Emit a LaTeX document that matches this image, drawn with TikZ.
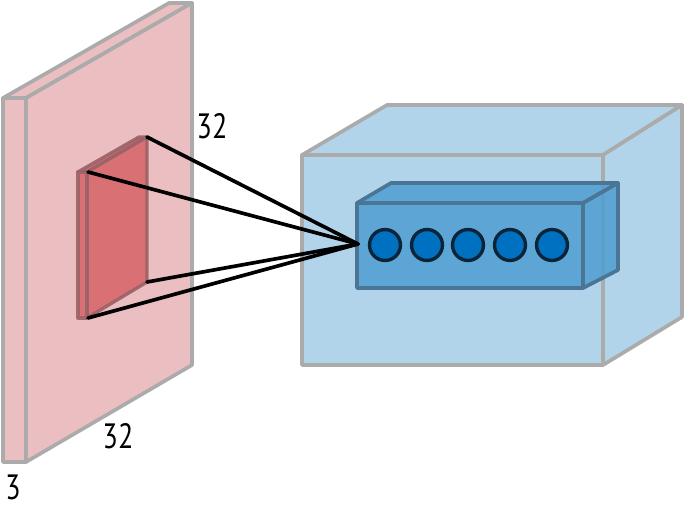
\documentclass[tikz,border=0pt]{standalone}
\usepackage{fontspec}
\setmainfont{PT Sans}
\definecolor{slabpink}{HTML}{EBBEC1}
\definecolor{fieldred}{HTML}{D87074}
\definecolor{fieldrim}{HTML}{9A6266}
\definecolor{boxblue}{HTML}{B1D4EA}
\definecolor{coreblue}{HTML}{4F9DD1}
\definecolor{corerim}{HTML}{4A7594}
\definecolor{unitblue}{HTML}{0070C0}
\definecolor{unitrim}{HTML}{0C2438}
\definecolor{rimgray}{HTML}{ABABAB}
\begin{document}
\begin{tikzpicture}[
  x=0.025cm, y=-0.025cm,
  every node/.style={font=\fontsize{25}{25}\selectfont},
  slab/.style={fill=slabpink, draw=rimgray, line width=2.6pt, line join=round},
  field/.style={fill=fieldred, draw=fieldrim, draw opacity=0.9, line width=2.4pt, line join=round},
  cube/.style={fill=boxblue, draw=rimgray, line width=2.6pt, line join=round},
  core/.style={fill=coreblue, fill opacity=0.85, draw=corerim, line width=2.6pt, line join=round},
  unit/.style={circle, fill=unitblue, draw=unitrim, line width=2.4pt, minimum size=22pt, inner sep=0pt},
  ray/.style={draw=black, line width=2.6pt, line cap=round}
]
\useasboundingbox (0,0) rectangle (690,508);

% input volume
\draw[slab] (3,98) -- (26,98) -- (192,3) -- (169,3) -- cycle;
\draw[slab] (26,98) -- (192,3) -- (192,365) -- (26,462) -- cycle;
\draw[slab] (3,98) rectangle (26,462);

% receptive field
\draw[field] (78,172) -- (87,172) -- (147,137) -- (139,137) -- cycle;
\draw[field] (87,172) -- (147,137) -- (147,282) -- (87,318) -- cycle;
\draw[field] (78,172) rectangle (87,318);
\coordinate (fa) at (88,172);
\coordinate (fb) at (147,137);
\coordinate (fc) at (147,282);
\coordinate (fd) at (88,318);

% output volume
\draw[cube] (302,155) -- (387,105) -- (682,105) -- (603,155) -- cycle;
\draw[cube] (603,155) -- (682,105) -- (682,317) -- (603,365) -- cycle;
\draw[cube] (302,155) rectangle (603,365);

% depth column
\draw[core] (357,203) -- (391,183) -- (618,183) -- (583,203) -- cycle;
\draw[core] (583,203) -- (618,183) -- (618,270) -- (583,288) -- cycle;
\draw[core] (357,203) rectangle (583,288);
\coordinate (tip) at (358,244);

\foreach \i/\x in {1/385,2/427,3/468,4/510,5/552}
  \node[unit] (u\i) at (\x,245) {};

% connections
\foreach \c in {fa,fb,fc,fd}
  \draw[ray] (\c) -- (tip);

% sizes
\node (w) at (212,126) {\scalebox{0.8}[1]{32}};
\node (h) at (118,436) {\scalebox{0.8}[1]{32}};
\node (d) at (13,487) {\scalebox{0.8}[1]{3}};
\end{tikzpicture}
\end{document}
